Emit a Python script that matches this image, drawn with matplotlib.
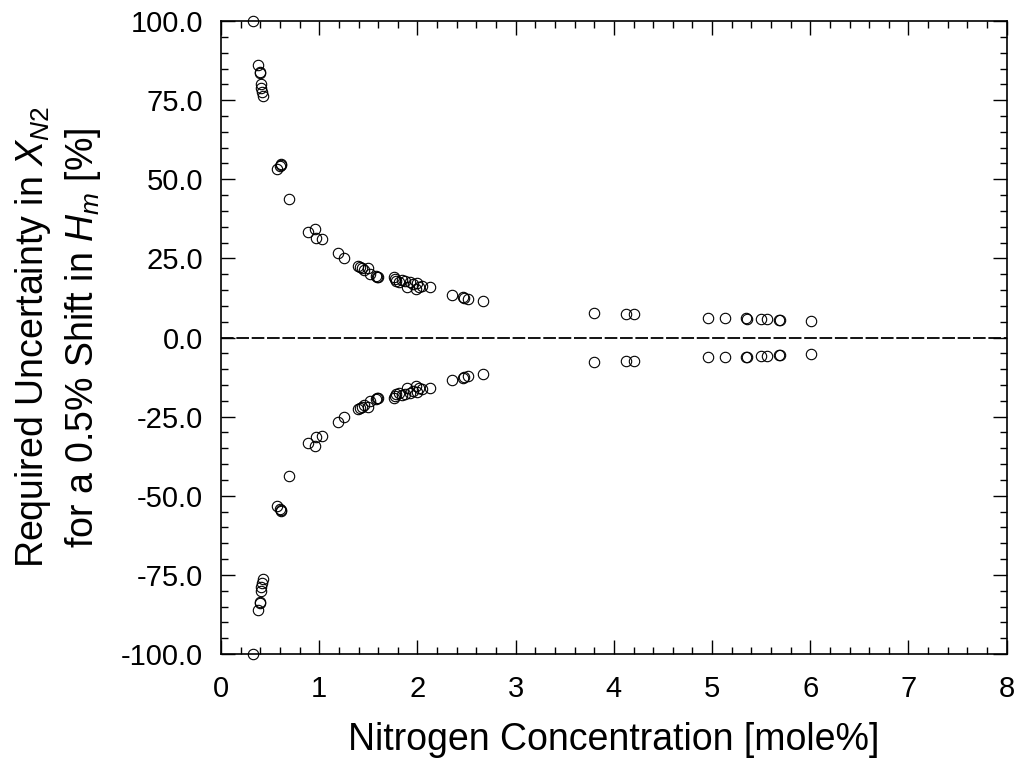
import matplotlib
matplotlib.use("Agg")
import matplotlib.pyplot as plt
from matplotlib.ticker import MultipleLocator, FormatStrFormatter

plt.rcParams['font.family'] = ['Liberation Sans', 'DejaVu Sans']
plt.rcParams['mathtext.fontset'] = 'custom'
plt.rcParams['mathtext.rm'] = 'Liberation Sans'
plt.rcParams['mathtext.it'] = 'Liberation Sans:italic'

# nitrogen concentration [mole%]
x_n2 = [0.33, 0.377, 0.394, 0.398, 0.404, 0.41, 0.42, 0.43, 0.565, 0.600,
        0.607, 0.612, 0.689, 0.883, 0.954, 0.964, 1.028, 1.195, 1.256, 1.392,
        1.415, 1.439, 1.459, 1.500, 1.517, 1.578, 1.590, 1.596, 1.765, 1.770,
        1.779, 1.813, 1.846, 1.874, 1.897, 1.925, 1.958, 1.983, 1.993, 2.019,
        2.044, 2.125, 2.349, 2.460, 2.478, 2.512, 2.671, 3.80, 4.12, 4.21,
        4.96, 5.135, 5.350, 5.360, 5.50, 5.556, 5.685, 5.695, 6.01]

# required uncertainty, upper branch [%]
u_plus = [100.0, 86.1, 83.8, 83.5, 80.1, 78.9, 77.7, 76.3, 53.1, 54.2,
          54.8, 54.5, 43.7, 33.2, 34.4, 31.4, 31.1, 26.8, 25.2, 22.5,
          22.3, 21.9, 21.4, 22.0, 20.1, 19.4, 19.2, 19.0, 19.0, 18.4,
          17.8, 17.5, 18.2, 17.8, 16.0, 17.6, 16.8, 15.3, 17.1, 16.1,
          16.4, 16.0, 13.3, 12.7, 12.5, 12.1, 11.6, 7.7, 7.5, 7.5,
          6.3, 6.1, 6.1, 6.0, 5.8, 5.7, 5.5, 5.4, 5.1]

# required uncertainty, lower branch [%]
u_minus = [-100.0, -86.1, -83.8, -83.5, -80.1, -78.9, -77.7, -76.3, -53.1, -54.2,
           -54.8, -54.5, -43.7, -33.2, -34.4, -31.4, -31.1, -26.8, -25.2, -22.5,
           -22.3, -21.9, -21.4, -22.0, -20.1, -19.4, -19.2, -19.0, -19.0, -18.4,
           -17.8, -17.5, -18.2, -17.8, -16.0, -17.6, -16.8, -15.3, -17.1, -16.1,
           -16.4, -16.0, -13.3, -12.7, -12.5, -12.1, -11.6, -7.7, -7.5, -7.5,
           -6.3, -6.1, -6.1, -6.0, -5.8, -5.7, -5.5, -5.4, -5.1]

fig = plt.figure(figsize=(10.21, 7.62), dpi=100)
ax = fig.add_axes([0.2165, 0.1417, 0.7695, 0.8307])

ax.axhline(0, color='black', lw=1.3, dashes=(7, 1.5), zorder=1)
for yy in (u_plus, u_minus):
    ax.plot(x_n2, yy, linestyle='none', marker='o', ms=7.5, mfc='none',
            mec='black', mew=0.8, zorder=2, clip_on=False)

ax.set_xlim(0, 8)
ax.set_ylim(-100, 100)
ax.xaxis.set_major_locator(MultipleLocator(1))
ax.xaxis.set_minor_locator(MultipleLocator(0.2))
ax.yaxis.set_major_locator(MultipleLocator(25))
ax.yaxis.set_minor_locator(MultipleLocator(5))
ax.yaxis.set_major_formatter(FormatStrFormatter('%.1f'))

ax.tick_params(which='both', direction='in', top=True, right=True,
               labelsize=21, width=1.0)
ax.tick_params(which='major', length=10)
ax.tick_params(which='minor', length=5)
ax.tick_params(axis='x', which='major', pad=15)
ax.tick_params(axis='y', which='major', pad=13)
for s in ax.spines.values():
    s.set_linewidth(1.2)

ax.set_xlabel('Nitrogen Concentration [mole%]', fontsize=27)
ax.set_ylabel('Required Uncertainty in $\\mathit{X}_{\\mathit{N2}}$\n'
              'for a 0.5% Shift in $\\mathit{H}_{\\mathit{m}}$ [%]',
              fontsize=27, linespacing=1.35)
ax.xaxis.set_label_coords(0.5, -0.107)
ax.yaxis.set_label_coords(-0.150, 0.5)

fig.savefig('out.png', dpi=100)
